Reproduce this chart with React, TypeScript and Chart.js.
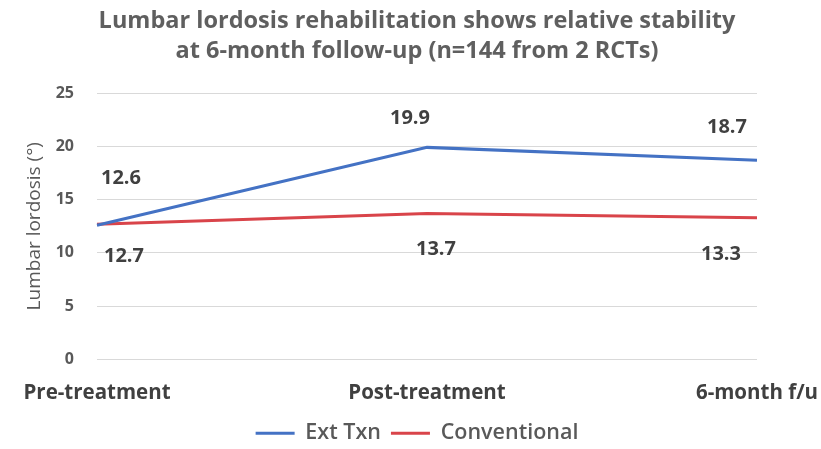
import { useEffect, useRef } from "react";
import { Chart, registerables } from "chart.js";

Chart.register(...registerables);

const categories = ["Pre-treatment", "Post-treatment", "6-month f/u"];
const extTxn = [12.6, 19.9, 18.7];
const conventional = [12.7, 13.7, 13.3];
const seriesNames = ["Ext Txn", "Conventional"];
const titleLines = [
  "Lumbar lordosis rehabilitation shows relative stability",
  "at 6-month follow-up (n=144 from 2 RCTs)",
];
const yAxisTitle = "Lumbar lordosis (°)";
const yMin = 0;
const yMax = 25;
const yStep = 5;

// label offsets (style only): [dx, dy] relative to each point
const labelOffsets = [
  [[24, -47], [-17, -29], [-30, -33]],
  [[27, 32], [9, 36], [-36, 37]],
];

const FONT = "'Open Sans', 'Liberation Sans', sans-serif";

const dataLabelPlugin = {
  id: "dataLabels",
  afterDatasetsDraw(chart: any) {
    const ctx = chart.ctx;
    ctx.save();
    ctx.font = `bold 20px ${FONT}`;
    ctx.fillStyle = "#404040";
    ctx.textAlign = "center";
    ctx.textBaseline = "middle";
    chart.data.datasets.forEach((ds: any, di: number) => {
      const meta = chart.getDatasetMeta(di);
      meta.data.forEach((pt: any, i: number) => {
        const [dx, dy] = labelOffsets[di][i];
        ctx.fillText(Number(ds.data[i]).toFixed(1), pt.x + dx, pt.y + dy);
      });
    });
    ctx.restore();
  },
};

export default function App() {
  const ref = useRef<HTMLCanvasElement | null>(null);
  useEffect(() => {
    if (!ref.current) return;
    const chart = new Chart(ref.current, {
      type: "line",
      data: {
        labels: categories,
        datasets: [
          {
            label: seriesNames[0],
            data: extTxn,
            borderColor: "#4472C4",
            backgroundColor: "#4472C4",
            borderWidth: 3,
            pointRadius: 0,
            tension: 0,
          },
          {
            label: seriesNames[1],
            data: conventional,
            borderColor: "#D9444A",
            backgroundColor: "#D9444A",
            borderWidth: 3,
            pointRadius: 0,
            tension: 0,
          },
        ],
      },
      options: {
        animation: false,
        responsive: true,
        maintainAspectRatio: false,
        layout: { padding: { left: 13, right: 0, top: 0, bottom: -5 } },
        plugins: {
          title: {
            display: true,
            text: titleLines,
            color: "#5f5f5f",
            font: { family: FONT, size: 23.5, weight: "bold", lineHeight: 1.277 },
            padding: { top: 6, bottom: 27 },
          },
          legend: {
            position: "bottom",
            labels: {
              color: "#595959",
              font: { family: FONT, size: 21.5, weight: "600" },
              boxWidth: 39,
              boxHeight: 3,
              padding: 10,
              generateLabels: (c: any) =>
                Chart.defaults.plugins.legend.labels
                  .generateLabels(c)
                  .map((l: any) => ({ ...l, lineWidth: 0, fillStyle: l.strokeStyle })),
            },
          },
          tooltip: { enabled: false },
        },
        scales: {
          x: {
            offset: false,
            grid: { display: false, drawTicks: false },
            border: { display: false },
            ticks: {
              color: "#404040",
              font: { family: FONT, size: 20.5, weight: "bold" },
              padding: 21,
              maxRotation: 0,
              autoSkip: false,
            },
            afterFit: (s: any) => {
              s.paddingLeft = 0;
              s.paddingRight = 64;
              s.height = 53;
              s._computeLabelArea = () => undefined;
            },
          },
          y: {
            min: yMin,
            max: yMax,
            ticks: {
              stepSize: yStep,
              color: "#595959",
              font: { family: FONT, size: 16, weight: "bold" },
              padding: 23,
            },
            grid: { color: "#d9d9d9", lineWidth: 1, drawTicks: false },
            border: { display: false },
            title: {
              display: true,
              text: yAxisTitle,
              color: "#595959",
              font: { family: FONT, size: 19 },
              padding: { top: 10, bottom: 0 },
            },
            afterFit: (s: any) => {
              s.width = 84;
            },
          },
        },
      },
      plugins: [dataLabelPlugin],
    });
    return () => chart.destroy();
  }, []);
  return (
    <div style={{ position: "absolute", left: 0, top: 0, width: 821, height: 449, overflow: "hidden", background: "#fff" }}>
      <canvas ref={ref} />
    </div>
  );
}
